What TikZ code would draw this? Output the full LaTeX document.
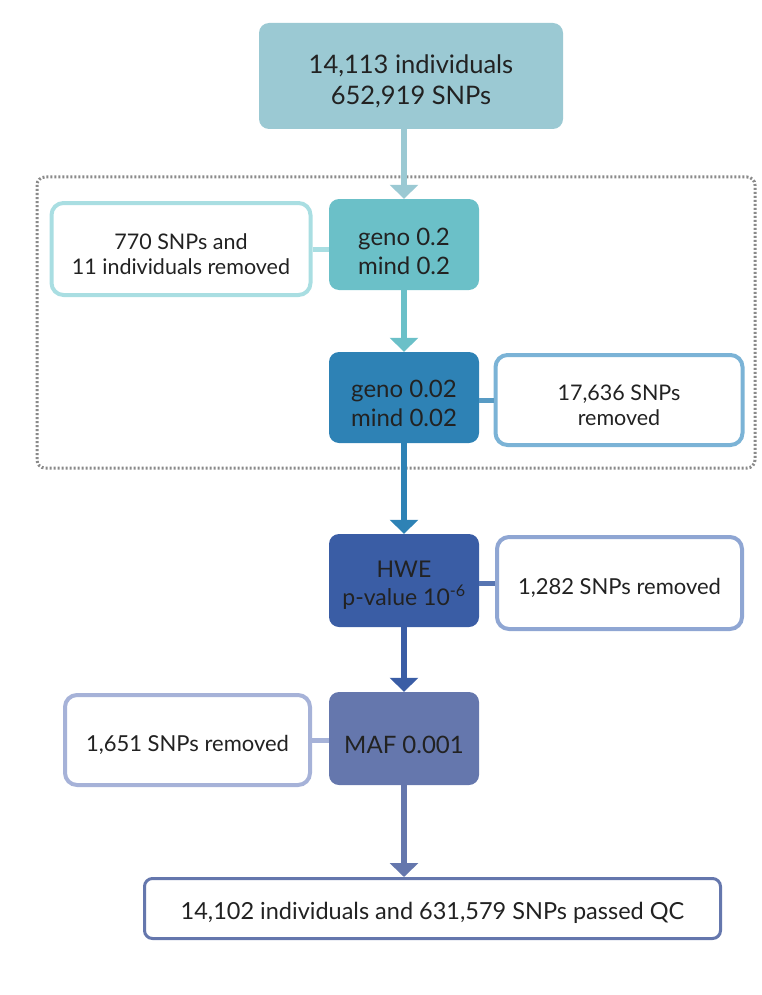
\documentclass[tikz,border=0pt]{standalone}
\usepackage{fontspec}
\setmainfont{Lato}
\usetikzlibrary{arrows.meta}
\definecolor{ctop}{HTML}{9BC9D3}
\definecolor{cgA}{HTML}{6BC0C8}
\definecolor{cbA}{HTML}{A9DEE2}
\definecolor{cgB}{HTML}{2E82B5}
\definecolor{cbB}{HTML}{7BB3D6}
\definecolor{cgC}{HTML}{3A5DA5}
\definecolor{cbC}{HTML}{8FA6D3}
\definecolor{cgD}{HTML}{6577AD}
\definecolor{cbD}{HTML}{A6B2D8}
\definecolor{ctxt}{HTML}{222222}
\definecolor{cdot}{HTML}{8A8A8A}
\tikzset{
  mainbox/.style={rounded corners=10pt, inner sep=0pt, minimum width=150pt},
  sidebox/.style={draw, fill=white, line width=4pt, rounded corners=12pt, inner sep=0pt},
  maintext/.style={inner sep=0pt, align=center, text=ctxt, font=\fontsize{24}{29}\selectfont},
  sidetext/.style={inner sep=0pt, align=center, text=ctxt, font=\fontsize{21.5}{25}\selectfont},
  flow/.style={line width=5.5pt, -{Triangle[width=28pt,length=14pt]}},
  link/.style={line width=5pt},
}
\begin{document}
\begin{tikzpicture}[x=1pt,y=-1pt]
\useasboundingbox (0,0) rectangle (762,995);
% dotted group
\draw[cdot, line width=3pt, dash pattern=on 2pt off 2pt, rounded corners=8pt]
  (37,177) rectangle (755,468);
% main boxes
\node[mainbox, fill=ctop, minimum width=304pt, minimum height=106pt] (top) at (411,76) {};
\node[maintext, font=\fontsize{25.5}{31}\selectfont] (topt) at ([yshift=-5pt]top.center)
  {14,113 individuals\\652,919 SNPs};
\node[mainbox, fill=cgA, minimum height=91pt] (g1) at (404,244.5) {};
\node[maintext] (g1t) at ([yshift=-7pt]g1.center) {geno 0.2\\mind 0.2};
\node[mainbox, fill=cgB, minimum height=91pt] (g2) at (404,397.5) {};
\node[maintext] (g2t) at ([yshift=-6pt]g2.center) {geno 0.02\\mind 0.02};
\node[mainbox, fill=cgC, minimum height=93pt] (hwe) at (404,580.5) {};
\node[maintext, font=\fontsize{23}{28}\selectfont] (hwet) at ([yshift=-5pt]hwe.center)
  {HWE\\p-value 10\textsuperscript{-6}};
\node[mainbox, fill=cgD, minimum height=93pt] (maf) at (404,738.5) {};
\node[maintext] (maft) at ([yshift=-6pt]maf.center) {MAF 0.001};
% side boxes
\node[sidebox, draw=cbA, minimum width=259pt, minimum height=92pt] (s1) at (181,249) {};
\node[sidetext] (s1t) at ([yshift=-5pt]s1.center) {770 SNPs and\\11 individuals removed};
\node[sidebox, draw=cbB, minimum width=247pt, minimum height=90pt] (s2) at (619,400) {};
\node[sidetext] (s2t) at ([yshift=-5pt]s2.center) {17,636 SNPs\\removed};
\node[sidebox, draw=cbC, minimum width=245pt, minimum height=92pt] (s3) at (619.5,583) {};
\node[sidetext, font=\fontsize{22}{26}\selectfont] (s3t) at ([yshift=-5pt]s3.center) {1,282 SNPs removed};
\node[sidebox, draw=cbD, minimum width=245pt, minimum height=90pt] (s4) at (187.5,740) {};
\node[sidetext, font=\fontsize{22}{26}\selectfont] (s4t) at ([yshift=-5pt]s4.center) {1,651 SNPs removed};
\node[sidebox, draw=cgD, line width=3pt, rounded corners=8pt, minimum width=576pt, minimum height=60pt]
  (fin) at (432.5,908.5) {};
\node[sidetext, font=\fontsize{23.5}{28}\selectfont] (fint) at ([yshift=-4pt]fin.center)
  {14,102 individuals and 631,579 SNPs passed QC};
% links
\draw[link, cbA] (s1.east) -- (s1.east -| g1.west);
\draw[link, cgB!80!white] (s2.west) -- (s2.west -| g2.east);
\draw[link, cgC!85!white] (s3.west) -- (s3.west -| hwe.east);
\draw[link, cbD] (s4.east) -- (s4.east -| maf.west);
% flow arrows
\draw[flow, ctop] (top.south -| g1.north) -- (g1.north);
\draw[flow, cgA] (g1.south) -- (g2.north);
\draw[flow, cgB] (g2.south) -- (hwe.north);
\draw[flow, cgC] (hwe.south) -- (maf.north);
\draw[flow, cgD] (maf.south) -- (fin.north -| maf.south);
\end{tikzpicture}
\end{document}
